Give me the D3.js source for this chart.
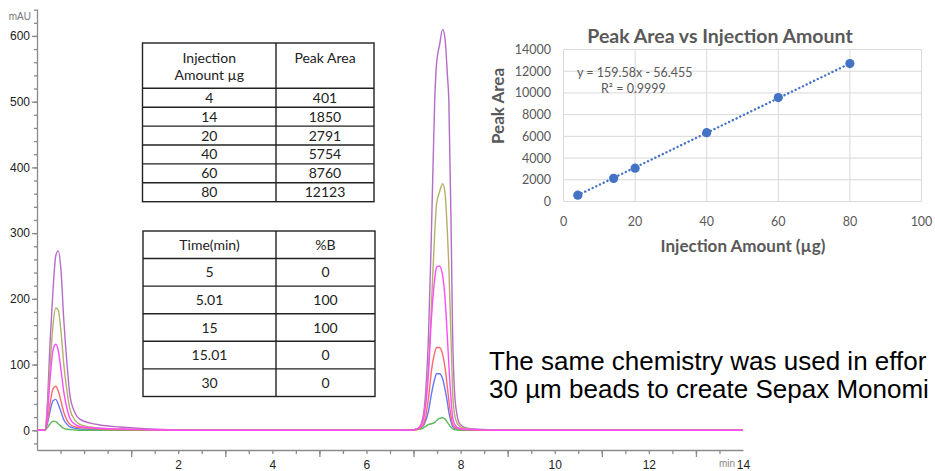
<!DOCTYPE html>
<html><head><meta charset="utf-8">
<script src="https://cdn.jsdelivr.net/npm/d3@7"></script>
<style>body{margin:0;background:#fff;overflow:hidden}svg{display:block}</style>
</head><body>
<svg id="c" width="935" height="471"></svg>
<script>
// ---------- chromatogram data (time in min, absorbance mAU) ----------
const chromTimes = [0, 0.17, 0.22, 0.28, 0.34, 0.40, 0.45, 0.51, 0.57, 0.64, 0.70, 0.81, 0.91, 1.13, 1.34, 1.76, 2.4, 3.5,
  7.9, 8.10, 8.20, 8.26, 8.32, 8.38, 8.45, 8.49, 8.55, 8.62, 8.67, 8.72, 8.75, 8.80, 8.83, 8.87, 8.92, 8.98, 9.1, 9.3, 9.6, 15];
const trace80 = [0, 0, 40, 137, 213, 266, 273, 243, 167, 99, 53, 26, 17, 11, 8, 5, 2, 0,
  0, 3, 20, 60, 148, 300, 502, 559, 585, 610, 595, 540, 502, 300, 148, 60, 25, 10, 4, 2, 1, 0];
const trace60 = [0, 0, 30, 100, 160, 186, 183, 150, 100, 58, 32, 15, 9, 5, 3, 2, 1, 0,
  0, 3, 15, 45, 100, 190, 300, 345, 362, 375, 360, 300, 250, 130, 60, 25, 12, 6, 3, 1, 0.5, 0];
const trace40 = [0, 0, 25, 80, 122, 131, 122, 92, 58, 32, 18, 9, 6, 4, 3, 2, 1, 0,
  0, 3, 15, 40, 90, 170, 230, 248, 250, 235, 200, 140, 100, 45, 20, 10, 5, 3, 1.5, 1, 0, 0];
const trace20 = [0, 0, 13, 42, 63, 67, 60, 44, 27, 15, 9, 5, 4, 3, 2, 1, 0.5, 0,
  0, 2, 8, 22, 50, 90, 118, 126, 126, 115, 95, 65, 45, 20, 10, 5, 3, 2, 1, 0.5, 0, 0];
const trace14 = [0, 0, 10, 30, 45, 47, 40, 28, 16, 9, 5, 3, 2, 1.5, 1, 0.5, 0, 0,
  0, 2, 6, 15, 30, 55, 78, 86, 86, 78, 62, 42, 28, 12, 6, 3, 2, 1, 0.5, 0, 0, 0];
const trace4 = [0, 0, 4, 10, 14, 13, 10, 6, 3, 1.5, 1, 0.5, 0, 0, 0, 0, 0, 0,
  0, 1, 3, 6, 9, 10, 12, 15, 18, 19, 17, 12, 9, 4, 2, 1, 0.5, 0, 0, 0, 0, 0];
const traceNames = ["80", "60", "14", "4", "20", "40"];
const traceColors = ["#b66bc8", "#b3b068", "#6677ff", "#5cb85c", "#ff6a6a", "#ff4cff"];
const traceData = [trace80, trace60, trace14, trace4, trace20, trace40];
const yMajor = [0, 100, 200, 300, 400, 500, 600];
const xMajor = [2, 4, 6, 8, 10, 12, 14];

// ---------- table data ----------
const tableHeader1 = [["Injection", "Amount µg"], ["Peak Area"]];
const injAmount = ["4", "14", "20", "40", "60", "80"];
const peakAreaTable = ["401", "1850", "2791", "5754", "8760", "12123"];
const gradHeader = ["Time(min)", "%B"];
const gradTime = ["5", "5.01", "15", "15.01", "30"];
const gradB = ["0", "100", "100", "0", "0"];

// ---------- calibration scatter data ----------
const calX = [4, 14, 20, 40, 60, 80];
const calY = [585, 2130, 3070, 6340, 9570, 12700];
const trendSlope = 159.58, trendIntercept = -56.455;
const calXTicks = [0, 20, 40, 60, 80, 100];
const calYTicks = [0, 2000, 4000, 6000, 8000, 10000, 12000, 14000];

const svg = d3.select("#c");
const AX = "Liberation Sans, Arial, sans-serif";
const CAL = "Lato, 'Open Sans', sans-serif";

// ===== chromatogram =====
const x = d3.scaleLinear().domain([0, 15]).range([37, 743]);
const y = d3.scaleLinear().domain([-30, 641]).range([450, 9]);

svg.append("g").attr("transform", "translate(37,0)")
  .call(d3.axisLeft(y).tickValues(d3.range(-20, 641, 20)).tickSize(3).tickSizeOuter(0).tickFormat(""))
  .call(g => g.selectAll("line,path").attr("stroke", "#8a8a8a").attr("stroke-width", 1.3));
svg.append("g").attr("transform", "translate(37,0)")
  .call(d3.axisLeft(y).tickValues(yMajor).tickSize(5).tickSizeOuter(0).tickPadding(2))
  .call(g => g.select(".domain").remove())
  .call(g => g.selectAll("line").attr("stroke", "#8a8a8a").attr("stroke-width", 1.3))
  .call(g => g.selectAll("text").attr("font-family", AX).attr("font-size", 12).attr("fill", "#222"));
svg.append("text").attr("x", 31).attr("y", 20).attr("text-anchor", "end")
  .attr("font-family", AX).attr("font-size", 10).attr("fill", "#777").text("mAU");

svg.append("g").attr("transform", "translate(0,450)")
  .call(d3.axisBottom(x).tickValues(d3.range(0.5, 15, 0.5)).tickSize(4).tickSizeOuter(0).tickFormat(""))
  .call(g => g.selectAll("line,path").attr("stroke", "#8a8a8a").attr("stroke-width", 1.3));
svg.append("g").attr("transform", "translate(0,450)")
  .call(d3.axisBottom(x).tickValues(xMajor).tickSize(7).tickSizeOuter(0).tickPadding(3))
  .call(g => g.select(".domain").remove())
  .call(g => g.selectAll("line").attr("stroke", "#8a8a8a").attr("stroke-width", 1.3))
  .call(g => g.selectAll("text").attr("dx", x(1) - x(0)).attr("font-family", AX).attr("font-size", 12).attr("fill", "#222"));
svg.append("text").attr("x", 735).attr("y", 467).attr("text-anchor", "end")
  .attr("font-family", AX).attr("font-size", 10).attr("fill", "#888").text("min");

const line = d3.line().x((d, i) => x(chromTimes[i])).y(d => y(d)).curve(d3.curveMonotoneX);
svg.append("g").selectAll("path").data(traceData).join("path")
  .attr("d", d => line(d)).attr("fill", "none")
  .attr("stroke", (d, i) => traceColors[i]).attr("stroke-width", 1.4).attr("stroke-linejoin", "round");

// ===== tables =====
function drawTable(x0, x1, x2, top, headH, rowH, nRows, header, col1, col2, headerTop) {
  const g = svg.append("g");
  const ry = d3.scaleLinear().domain([0, nRows]).range([top + headH, top + headH + rowH * nRows]);
  const bottom = ry(nRows);
  g.append("rect").attr("x", x0).attr("y", top).attr("width", x2 - x0).attr("height", bottom - top)
    .attr("fill", "#fff").attr("stroke", "#222").attr("stroke-width", 1.4);
  g.append("line").attr("x1", x1).attr("x2", x1).attr("y1", top).attr("y2", bottom).attr("stroke", "#222").attr("stroke-width", 1.4);
  g.selectAll("line.r").data(d3.range(0, nRows)).join("line").attr("class", "r")
    .attr("x1", x0).attr("x2", x2).attr("y1", d => ry(d)).attr("y2", d => ry(d)).attr("stroke", "#222").attr("stroke-width", 1.4);
  const cx = [(x0 + x1) / 2, (x1 + x2) / 2];
  header.forEach((lines, c) => {
    lines.forEach((t, k) => {
      g.append("text").attr("x", cx[c]).attr("y", headerTop ? top + 20 + k * 17 : top + headH / 2 + 5)
        .attr("text-anchor", "middle").attr("font-family", CAL).attr("font-size", 14).attr("fill", "#222").text(t);
    });
  });
  [col1, col2].forEach((col, c) => {
    g.selectAll("text.c" + c).data(col).join("text").attr("class", "c" + c)
      .attr("x", cx[c]).attr("y", (d, i) => (ry(i) + ry(i + 1)) / 2 + 5)
      .attr("text-anchor", "middle").attr("font-family", CAL).attr("font-size", 14).attr("fill", "#222").text(d => d);
  });
}
drawTable(142.5, 276, 374, 43, 45.3, 18.9, injAmount.length, tableHeader1, injAmount, peakAreaTable, true);
drawTable(143, 276, 375, 231, 27.5, 27.6, gradTime.length, gradHeader.map(d => [d]), gradTime, gradB, false);

// ===== calibration scatter =====
const sx = d3.scaleLinear().domain([0, 100]).range([563.5, 921.5]);
const sy = d3.scaleLinear().domain([0, 14000]).range([201.5, 49.5]);
const sg = svg.append("g");
sg.selectAll("line.h").data(calYTicks).join("line").attr("class", "h")
  .attr("x1", sx(0)).attr("x2", sx(100)).attr("y1", d => sy(d)).attr("y2", d => sy(d))
  .attr("stroke", "#d9d9d9").attr("stroke-width", 1);
sg.selectAll("line.v").data(calXTicks).join("line").attr("class", "v")
  .attr("y1", sy(0)).attr("y2", sy(14000)).attr("x1", d => sx(d)).attr("x2", d => sx(d))
  .attr("stroke", "#d9d9d9").attr("stroke-width", 1);
sg.selectAll("text.yt").data(calYTicks).join("text").attr("class", "yt")
  .attr("x", 551).attr("y", d => sy(d) + 4.5).attr("text-anchor", "end")
  .attr("font-family", CAL).attr("font-size", 12.5).attr("fill", "#595959").text(d => d);
sg.selectAll("text.xt").data(calXTicks).join("text").attr("class", "xt")
  .attr("x", d => sx(d)).attr("y", 226).attr("text-anchor", "middle")
  .attr("font-family", CAL).attr("font-size", 12.5).attr("fill", "#595959").text(d => d);
sg.append("line").attr("x1", sx(calX[0])).attr("y1", sy(trendSlope * calX[0] + trendIntercept))
  .attr("x2", sx(calX[calX.length - 1])).attr("y2", sy(trendSlope * calX[calX.length - 1] + trendIntercept))
  .attr("stroke", "#4472c4").attr("stroke-width", 2.4).attr("stroke-dasharray", "0.1,4").attr("stroke-linecap", "round");
sg.selectAll("circle").data(calX).join("circle")
  .attr("cx", d => sx(d)).attr("cy", (d, i) => sy(calY[i])).attr("r", 4.6).attr("fill", "#4472c4");
sg.append("text").attr("x", 720).attr("y", 43).attr("text-anchor", "middle")
  .attr("font-family", CAL).attr("font-weight", "bold").attr("font-size", 19.5).attr("fill", "#595959")
  .text("Peak Area vs Injection Amount");
sg.append("text").attr("transform", "translate(504,106) rotate(-90)").attr("text-anchor", "middle")
  .attr("font-family", CAL).attr("font-weight", "bold").attr("font-size", 17).attr("fill", "#595959").text("Peak Area");
sg.append("text").attr("x", 743).attr("y", 252).attr("text-anchor", "middle")
  .attr("font-family", CAL).attr("font-weight", "bold").attr("font-size", 17).attr("fill", "#595959").text("Injection Amount (µg)");
sg.append("text").attr("x", 577).attr("y", 77).attr("font-family", CAL).attr("font-size", 12.5).attr("fill", "#595959")
  .text("y = 159.58x - 56.455");
sg.append("text").attr("x", 601).attr("y", 93).attr("font-family", CAL).attr("font-size", 12.5).attr("fill", "#595959")
  .text("R² = 0.9999");

// ===== caption text =====
const caption = ["The same chemistry was used in effor", "30 µm beads to create Sepax Monomi"];
svg.selectAll("text.cap").data(caption).join("text").attr("class", "cap")
  .attr("x", 489).attr("y", (d, i) => 370 + i * 28)
  .attr("font-family", AX).attr("font-size", 26).attr("fill", "#000").text(d => d);
</script>
</body></html>
